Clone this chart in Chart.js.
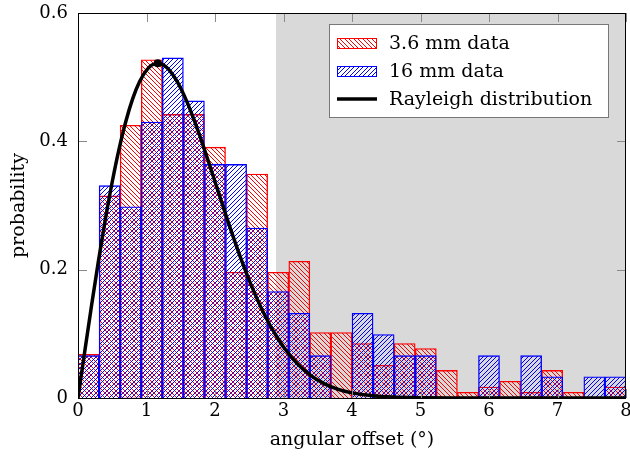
<!DOCTYPE html>
<html><head><meta charset="utf-8">
<script src="https://cdn.jsdelivr.net/npm/chart.js@4.4.1/dist/chart.umd.min.js"></script>
<style>html,body{margin:0;padding:0;background:#fff;overflow:hidden}#wrap{width:630px;height:459px}</style>
</head><body><div id="wrap"><canvas id="c" width="630" height="459"></canvas></div>
<script>
// ---- data ----
const binCenters = [0.154, 0.462, 0.769, 1.077, 1.385, 1.692, 2.000, 2.308, 2.615, 2.923, 3.231, 3.538, 3.846,
                    4.154, 4.462, 4.769, 5.077, 5.385, 5.692, 6.000, 6.308, 6.615, 6.923, 7.231, 7.538, 7.846];
const data36mm = [0.068, 0.315, 0.425, 0.527, 0.442, 0.442, 0.391, 0.196, 0.349, 0.196, 0.213, 0.102, 0.102,
                  0.085, 0.051, 0.085, 0.077, 0.043, 0.009, 0.017, 0.026, 0.009, 0.043, 0.009, 0, 0.017];
const data16mm = [0.066, 0.331, 0.298, 0.430, 0.530, 0.463, 0.364, 0.364, 0.265, 0.166, 0.132, 0.066, 0,
                  0.132, 0.099, 0.066, 0.066, 0, 0, 0.066, 0, 0.066, 0.033, 0, 0.033, 0.033];
const rayleighX = [0, 0.1, 0.2, 0.3, 0.4, 0.5, 0.6, 0.7, 0.8, 0.9, 1.0, 1.1, 1.2, 1.3, 1.4, 1.5, 1.6, 1.7, 1.8, 1.9,
                   2.0, 2.1, 2.2, 2.3, 2.4, 2.5, 2.6, 2.7, 2.8, 2.9, 3.0, 3.2, 3.4, 3.6, 3.8, 4.0, 4.3, 4.6, 5.0, 5.5, 6.0, 7.0, 8.0];
const rayleighY = [0, 0.0737, 0.1457, 0.2145, 0.2788, 0.3370, 0.3883, 0.4318, 0.4669, 0.4932, 0.5108, 0.5200, 0.5210,
                   0.5146, 0.5015, 0.4828, 0.4592, 0.4318, 0.4018, 0.3699, 0.3371, 0.3042, 0.2718, 0.2406, 0.2110,
                   0.1834, 0.1580, 0.1349, 0.1141, 0.0958, 0.0796, 0.0537, 0.0350, 0.0221, 0.0135, 0.0080, 0.0034,
                   0.0014, 0.0004, 0.00004, 0, 0, 0];
const peakX = [1.163];
const peakY = [0.5215];
const xTicks = [0, 1, 2, 3, 4, 5, 6, 7, 8];
const yTicks = [0, 0.2, 0.4, 0.6];
const shadeFrom = 2.89;
const seriesLabels = ['3.6 mm data', '16 mm data', 'Rayleigh distribution'];
const xTitle = 'angular offset (°)';
const yTitle = 'probability';

// ---- styling ----
const FONT = '"DejaVu Serif", serif';
const RED = '#ff0000', BLUE = '#0000ff';

// crisp 1px diagonal hatch tile: 9px tile holding two lines (average spacing 4.5px)
function hatch(rgb, dir) {
  const T = 9;
  const c = document.createElement('canvas');
  c.width = T; c.height = T;
  const g = c.getContext('2d');
  const img = g.createImageData(T, T);
  for (let yy = 0; yy < T; yy++) {
    for (let xx = 0; xx < T; xx++) {
      const m = dir === 'nw' ? ((xx - yy + T * 4) % T) : ((xx + yy) % T);
      const on = dir === 'nw' ? (m === 0 || m === 4) : (m === 2 || m === 6);
      if (on) {
        const k = (yy * T + xx) * 4;
        img.data[k] = rgb[0]; img.data[k + 1] = rgb[1]; img.data[k + 2] = rgb[2]; img.data[k + 3] = 255;
      }
    }
  }
  g.putImageData(img, 0, 0);
  return g.createPattern(c, 'repeat');
}
const ctx = document.getElementById('c').getContext('2d');
const redPat = hatch([255, 0, 0], 'nw');
const bluePat = hatch([0, 0, 255], 'ne');

const decor = {
  id: 'decor',
  beforeDatasetsDraw(chart) {
    const {ctx, chartArea: a, scales: {x}} = chart;
    const x0 = x.getPixelForValue(shadeFrom);
    ctx.save();
    ctx.fillStyle = '#d9d9d9';
    ctx.fillRect(x0, a.top, a.right - x0, a.bottom - a.top);
    ctx.restore();
  },
  afterDraw(chart) {
    const {ctx, chartArea: a, scales: {x, y}} = chart;
    ctx.save();
    // ticks (inward, all sides)
    ctx.strokeStyle = '#8a8a8a'; ctx.lineWidth = 1;
    ctx.beginPath();
    xTicks.forEach(v => {
      const px = Math.round(x.getPixelForValue(v)) + 0.5;
      ctx.moveTo(px, a.bottom); ctx.lineTo(px, a.bottom - 9);
      ctx.moveTo(px, a.top); ctx.lineTo(px, a.top + 9);
    });
    yTicks.forEach(v => {
      const py = Math.round(y.getPixelForValue(v)) + 0.5;
      ctx.moveTo(a.left, py); ctx.lineTo(a.left + 9, py);
      ctx.moveTo(a.right, py); ctx.lineTo(a.right - 9, py);
    });
    ctx.stroke();
    // frame
    ctx.strokeStyle = '#000'; ctx.lineWidth = 1;
    ctx.strokeRect(Math.round(a.left) + 0.5, Math.round(a.top) + 0.5,
                   Math.round(a.right - a.left) - 1, Math.round(a.bottom - a.top));
    // legend
    const L = {x: 329.5, y: 24.5, w: 279, h: 93};
    ctx.fillStyle = '#fff';
    ctx.fillRect(L.x, L.y, L.w, L.h);
    ctx.strokeStyle = '#777';
    ctx.strokeRect(L.x, L.y, L.w, L.h);
    const rows = [49, 77, 105];
    const pats = [redPat, bluePat];
    const cols = [RED, BLUE];
    ctx.font = '19px ' + FONT;
    ctx.textBaseline = 'alphabetic';
    ctx.textAlign = 'left';
    for (let i = 0; i < 3; i++) {
      const b = rows[i];
      if (i < 2) {
        ctx.fillStyle = pats[i];
        ctx.fillRect(337, b - 11, 40, 11);
        ctx.strokeStyle = cols[i]; ctx.lineWidth = 1;
        ctx.strokeRect(337.5, b - 10.5, 39, 10);
      } else {
        ctx.strokeStyle = '#000'; ctx.lineWidth = 3.5;
        ctx.beginPath(); ctx.moveTo(337, b - 6); ctx.lineTo(377, b - 6); ctx.stroke();
      }
      ctx.fillStyle = '#000';
      ctx.fillText(seriesLabels[i], 389, b);
    }
    ctx.restore();
  }
};

new Chart(ctx, {
  type: 'bar',
  data: {
    datasets: [
      { type: 'bar', label: seriesLabels[0], data: binCenters.map((v, i) => ({x: v, y: data36mm[i]})),
        backgroundColor: redPat, borderColor: RED, borderWidth: 0.7, grouped: false,
        barPercentage: 1, categoryPercentage: 1, order: 4 },
      { type: 'bar', label: seriesLabels[1], data: binCenters.map((v, i) => ({x: v, y: data16mm[i]})),
        backgroundColor: bluePat, borderColor: BLUE, borderWidth: 0.7, grouped: false,
        barPercentage: 1, categoryPercentage: 1, order: 3 },
      { type: 'line', label: seriesLabels[2], data: rayleighX.map((v, i) => ({x: v, y: rayleighY[i]})),
        borderColor: '#000', borderWidth: 3.5, pointRadius: 0, fill: false,
        cubicInterpolationMode: 'monotone', order: 2 },
      { type: 'line', label: 'peak', data: peakX.map((v, i) => ({x: v, y: peakY[i]})),
        showLine: false, pointRadius: 4, pointBackgroundColor: '#000', pointBorderColor: '#000',
        pointBorderWidth: 0, order: 1 }
    ]
  },
  options: {
    responsive: false, animation: false, devicePixelRatio: 1,
    layout: {padding: {top: 13, right: 4, left: 0, bottom: 0}},
    plugins: {legend: {display: false}, tooltip: {enabled: false}},
    scales: {
      x: {
        type: 'linear', min: 0, max: 8, offset: false,
        grid: {display: false, drawTicks: false, offset: false}, border: {display: false},
        afterBuildTicks: s => { s.ticks = xTicks.map(v => ({value: v})); },
        ticks: {font: {family: FONT, size: 18}, color: '#000', padding: 3, maxRotation: 0, autoSkip: false},
        title: {display: true, text: xTitle, font: {family: FONT, size: 19}, color: '#000', padding: {top: 0, bottom: 8}},
        afterFit: s => { s.height = 61; s.paddingLeft = 0; s.paddingRight = 0; }
      },
      y: {
        min: 0, max: 0.6,
        grid: {display: false, drawTicks: false}, border: {display: false},
        afterBuildTicks: s => { s.ticks = yTicks.map(v => ({value: v})); },
        ticks: {font: {family: FONT, size: 18}, color: '#000', padding: 10,
                callback: v => (v === 0 ? '0' : v.toFixed(1))},
        title: {display: true, text: yTitle, font: {family: FONT, size: 19}, color: '#000', padding: {top: 8, bottom: 0}},
        afterFit: s => { s.width = 78; s.paddingTop = 0; s.paddingBottom = 0; }
      }
    }
  },
  plugins: [decor]
});
</script>
</body></html>
